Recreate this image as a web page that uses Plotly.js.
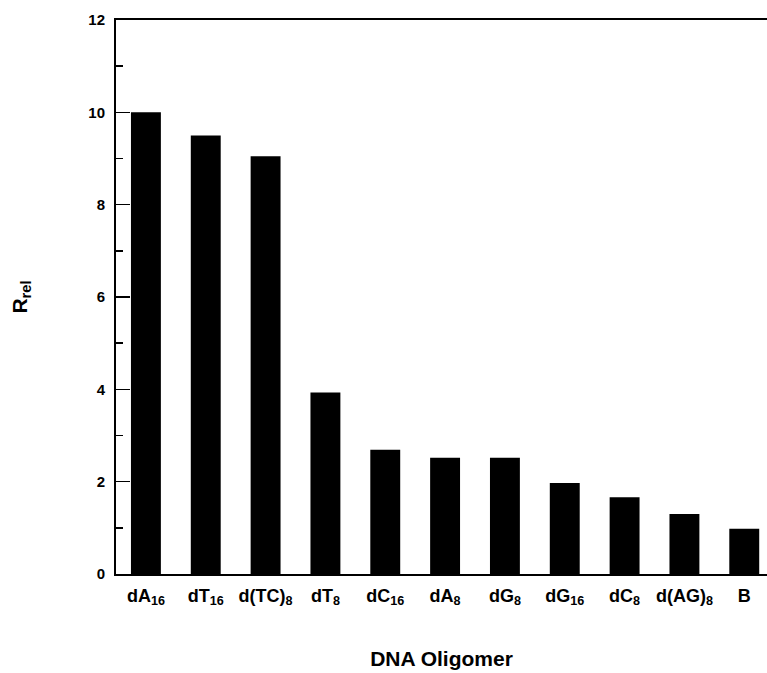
<!DOCTYPE html>
<html>
<head>
<meta charset="utf-8">
<script src="https://cdn.plot.ly/plotly-3.0.1.min.js"></script>
<style>html,body{margin:0;padding:0;background:#fff;}#chart{width:767px;height:673px;}</style>
</head>
<body>
<div id="chart"></div>
<script>
var categories = ["dA<sub>16</sub>", "dT<sub>16</sub>", "d(TC)<sub>8</sub>", "dT<sub>8</sub>", "dC<sub>16</sub>", "dA<sub>8</sub>", "dG<sub>8</sub>", "dG<sub>16</sub>", "dC<sub>8</sub>", "d(AG)<sub>8</sub>", "B"];
var rrelValues = [10.0, 9.5, 9.05, 3.93, 2.69, 2.52, 2.52, 1.97, 1.66, 1.3, 0.98];
var yTickVals = [0, 2, 4, 6, 8, 10, 12];
var yTickText = ["0", "2", "4", "6", "8", "10", "12"];

var fontFam = "Liberation Sans, Arial, sans-serif";
var trace = {
  type: "bar",
  x: categories.map(function(c, i){ return i; }),
  y: rrelValues,
  width: 0.5,
  marker: {color: "#000000", line: {width: 0}},
  hoverinfo: "skip"
};
var layout = {
  width: 767, height: 673,
  margin: {l: 116, r: 0, t: 20, b: 99},
  paper_bgcolor: "#fff", plot_bgcolor: "#fff",
  showlegend: false,
  font: {family: fontFam, color: "#000"},
  xaxis: {
    range: [-0.5, 10.38],
    tickmode: "array",
    tickvals: categories.map(function(c, i){ return i; }),
    ticktext: categories,
    ticks: "",
    showgrid: false, zeroline: false,
    showline: true, linecolor: "#000", linewidth: 2, mirror: true,
    ticklabelstandoff: 4,
    tickfont: {family: fontFam, size: 18, color: "#000", weight: "bold"},
    title: {text: "<b>DNA Oligomer</b>", font: {family: fontFam, size: 21, color: "#000"}, standoff: 44}
  },
  yaxis: {
    range: [0, 12],
    tickmode: "array",
    tickvals: yTickVals,
    ticktext: yTickText,
    ticks: "inside", ticklen: 14, tickwidth: 1.5, tickcolor: "#000",
    minor: {dtick: 1, tick0: 1, ticks: "inside", ticklen: 7, tickwidth: 1.5, tickcolor: "#000", showgrid: false},
    showgrid: false, zeroline: false,
    showline: true, linecolor: "#000", linewidth: 2, mirror: false,
    ticklabelstandoff: 6,
    tickfont: {family: fontFam, size: 15, color: "#000", weight: "bold"},
    title: {text: "<b>R<sub>rel</sub></b>", font: {family: fontFam, size: 21, color: "#000"}, standoff: 55}
  }
};
Plotly.newPlot("chart", [trace], layout, {displayModeBar: false, staticPlot: true});
</script>
</body>
</html>
